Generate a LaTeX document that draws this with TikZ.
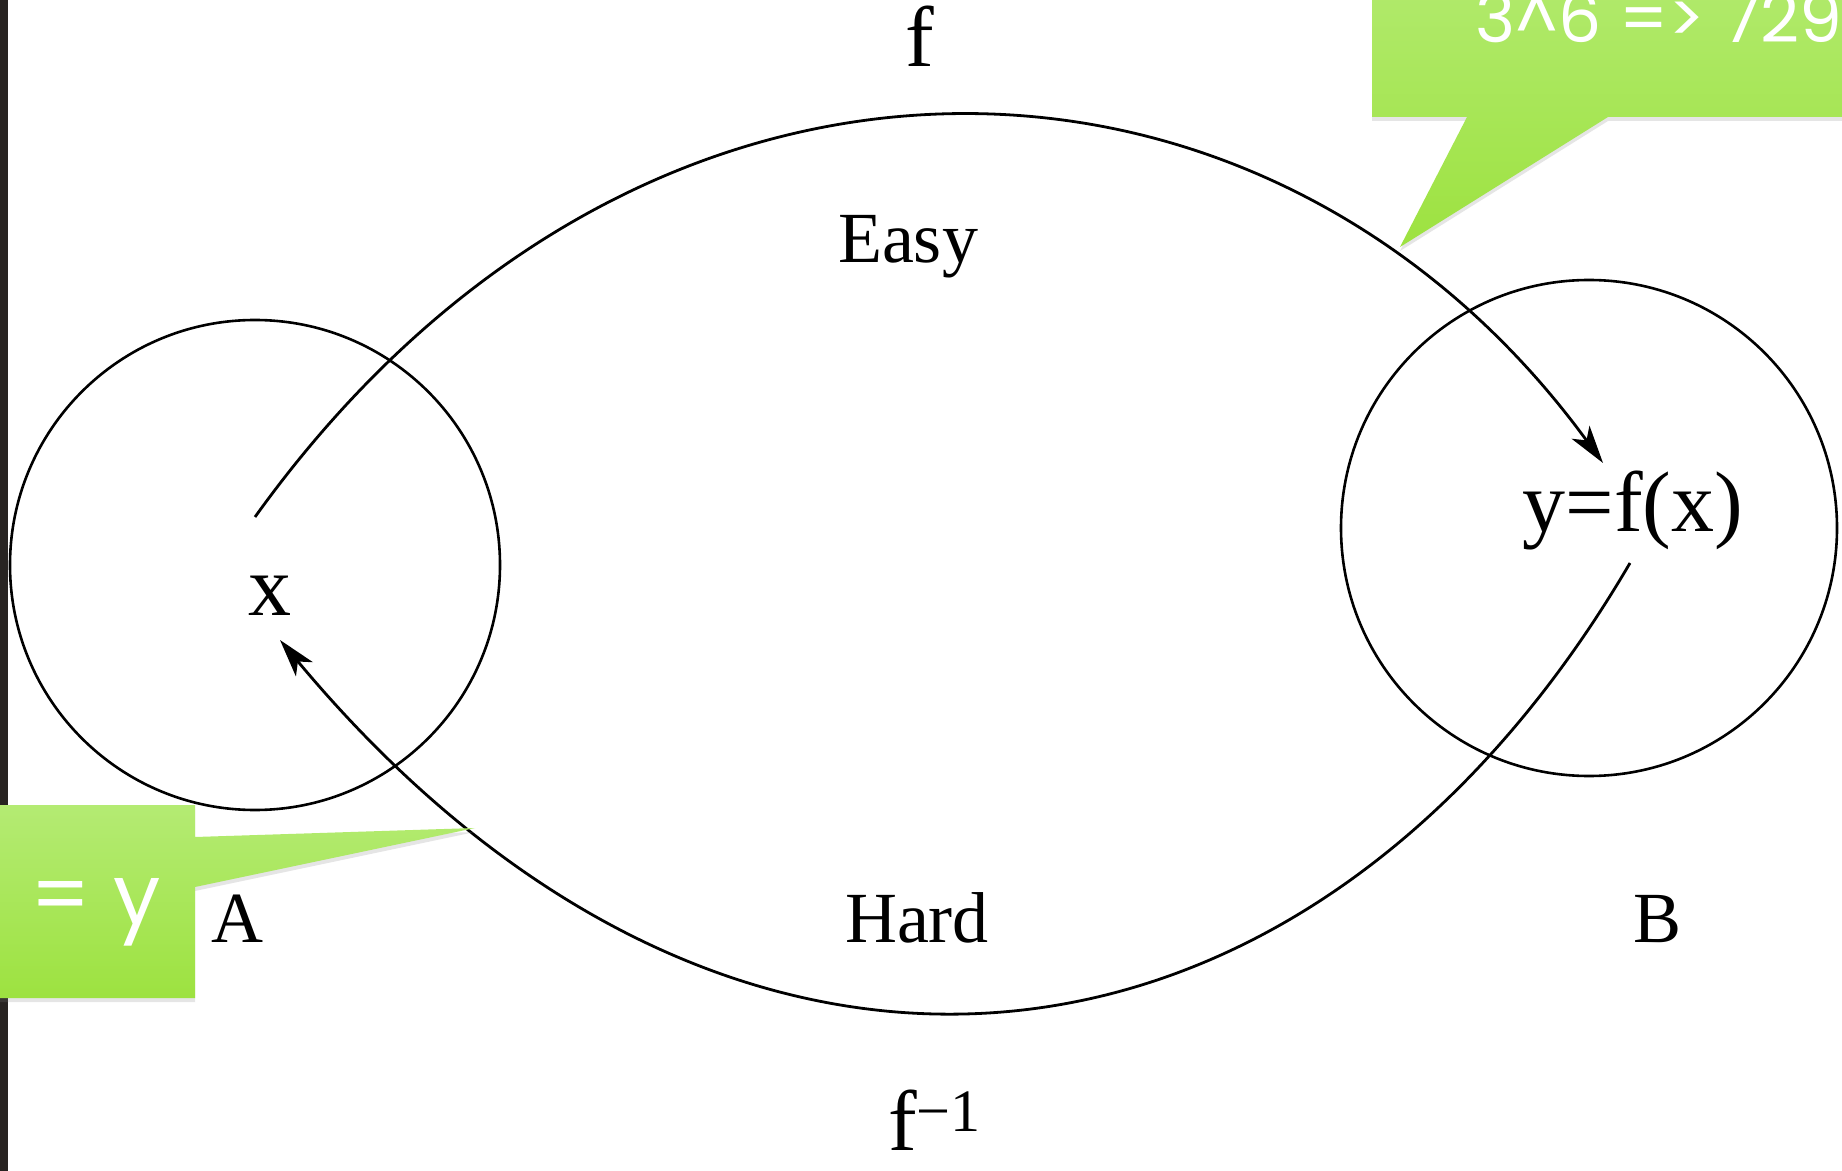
\documentclass[tikz,border=0pt]{standalone}
\usepackage{fontspec}
\setmainfont{Liberation Serif}
\newfontfamily\handfont{Poppins}
\usetikzlibrary{arrows.meta,positioning,shadows}
\definecolor{calltop}{RGB}{180,235,115}
\definecolor{callbot}{RGB}{157,226,64}
\definecolor{edgedark}{RGB}{40,36,34}

\begin{document}
\begin{tikzpicture}[x=0.5pt,y=-0.5pt,>={Stealth[length=19pt,width=11pt,inset=5pt]}]
  \tikzstyle{set}=[draw,circle,line width=1.3pt,inner sep=0pt]
  \tikzstyle{lbl}=[font=\fontsize{36pt}{40pt}\selectfont,anchor=base,inner sep=0pt]
  \tikzstyle{elem}=[font=\fontsize{43pt}{48pt}\selectfont,anchor=base,inner sep=0pt]
  \tikzstyle{map}=[line width=1.4pt]
  \tikzstyle{callout}=[top color=calltop,bottom color=callbot,drop shadow={opacity=0.2,shadow xshift=0pt,shadow yshift=-2pt}]
  \tikzstyle{hint}=[text=white,anchor=base west,inner sep=0pt]
  \useasboundingbox (0,0) rectangle (1842,1171);
  \clip (0,0) rectangle (1842,1171);
  \fill[white] (0,0) rectangle (1842,1171);
  \fill[edgedark] (0,0) rectangle (8,1171);
  \node[set,minimum size=245pt] (seta) at (255,565) {};
  \node[set,minimum size=248pt] (setb) at (1589,528) {};
  \node[elem] (fname) at (920,67) {f};
  \node[lbl] (easy) at (908,263) {Easy};
  \node[lbl] (hard) at (917,942) {Hard};
  \node[lbl] (aname) at (237,942) {A};
  \node[lbl] (bname) at (1657,942) {B};
  \node[elem] (x) at (270,615) {x};
  \node[elem] (y) at (1633,531) {y=f(x)};
  \node[elem] (finv) at (935,1150) {f\textsuperscript{−1}};
  \coordinate (xout) at (255,517);
  \coordinate (xin) at (280,640);
  \coordinate (yin) at (1603,463);
  \coordinate (yout) at (1630,563);
  \draw[map,->] (xout) .. controls (640,-20) and (1268,4) .. (yin);
  \draw[map,->] (yout) .. controls (1310,1110) and (730,1180) .. (xin);
  \path[callout] (1372,-60) -- (1372,117) -- (1467,117) -- (1400,247) -- (1608,117) -- (1900,117) -- (1900,-60) -- cycle;
  \path[callout] (-10,805) -- (195,805) -- (195,837) -- (475,828) -- (195,887) -- (195,998) -- (-10,998) -- cycle;
  \node[hint,font=\handfont\fontsize{34pt}{40pt}\selectfont] (power) at (1475,43) {3\textasciicircum6 => 729};
  \node[hint,font=\handfont\fontsize{42pt}{46pt}\selectfont] (eqy) at (30,924) {= y};
\end{tikzpicture}
\end{document}
